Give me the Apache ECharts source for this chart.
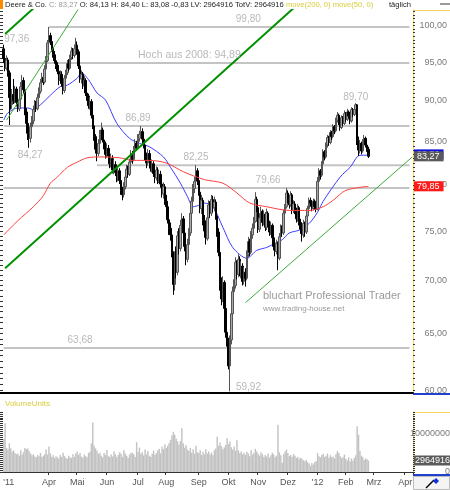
<!DOCTYPE html>
<html><head><meta charset="utf-8">
<script src="https://cdn.jsdelivr.net/npm/echarts@6/dist/echarts.min.js"></script>
<style>html,body{margin:0;padding:0;background:#fff}#c{width:450px;height:490px}</style>
</head><body><div id="c"></div><script>
// ---------- data (Deere & Co., daily, 15 Feb 2011 .. 24 Feb 2012) ----------
const firstOpen = 96.8;
const close = [
95.5,94.2,95.3,93.6,90.4,89.5,90.8,90.0,91.5,89.8,
89.0,90.2,91.8,92.6,91.4,88.6,87.2,86.0,85.4,86.8,
87.5,88.9,89.6,89.0,90.4,91.2,92.3,93.0,92.4,94.1,
95.2,97.6,98.6,97.8,96.9,96.0,95.2,94.6,93.8,92.6,
93.4,92.2,91.3,92.9,93.6,94.8,94.2,95.6,96.5,95.9,
96.8,97.3,96.4,94.5,92.8,93.4,91.9,92.6,91.0,90.6,
89.4,89.9,88.2,86.9,85.6,84.1,83.6,84.8,85.9,86.4,
85.2,84.6,83.5,84.2,83.3,82.4,83.0,81.7,82.3,81.4,
80.8,81.6,80.5,79.4,78.9,79.8,80.9,81.8,81.2,82.6,
83.5,82.9,84.1,84.8,84.3,85.4,85.9,86.2,85.3,84.6,
83.2,82.5,83.6,82.8,81.9,82.4,81.3,80.8,81.7,80.6,
81.2,80.1,79.0,79.8,78.2,77.6,76.2,75.3,74.6,72.8,
69.6,72.5,70.8,74.5,73.2,75.6,76.3,74.8,73.4,72.1,
73.6,74.8,76.9,78.2,79.6,80.4,81.6,80.5,79.2,77.4,
78.3,76.1,75.0,74.2,76.4,77.8,76.9,78.4,77.5,78.1,
76.6,74.9,72.8,69.6,68.2,69.8,67.3,65.1,64.3,62.1,
64.4,66.8,68.9,69.5,71.8,70.6,72.1,70.9,71.4,69.9,
70.8,70.2,72.6,73.9,72.8,74.6,75.3,76.0,78.4,77.5,
75.2,76.4,77.1,75.9,76.8,75.4,76.9,75.8,74.9,75.6,
74.3,73.4,72.9,73.7,72.2,74.4,75.3,74.8,76.9,77.6,
79.1,78.4,77.8,78.9,77.2,77.9,77.1,76.3,77.5,75.9,
75.2,74.6,75.8,74.9,76.6,77.4,78.3,78.0,77.4,78.2,
77.6,77.3,80.4,81.6,81.1,82.4,83.8,83.2,84.6,85.5,
84.9,86.1,85.6,86.8,86.3,87.6,88.2,87.4,86.7,87.9,
87.2,88.4,87.7,88.6,88.1,87.5,88.9,88.3,88.9,89.5,
85.1,84.0,84.8,83.9,84.9,85.4,84.6,84.10,83.27];
const high = [
97.36,96.1,95.9,95.6,93.9,91.2,91.5,92.8,91.9,91.8,
90.3,90.8,92.4,93.3,93.0,91.7,89.1,87.9,86.9,87.3,
88.1,89.4,90.1,90.0,90.9,91.7,92.8,93.6,93.5,94.6,
95.8,98.0,99.8,99.0,98.2,97.4,96.5,95.7,95.0,94.2,
93.9,93.8,92.6,93.3,94.0,95.3,95.4,96.0,97.0,96.9,
97.4,98.3,97.8,96.7,94.9,93.9,93.7,93.2,92.9,91.6,
90.9,90.5,90.2,88.6,87.3,85.9,84.6,85.3,86.4,87.3,
86.7,85.7,85.0,84.8,84.6,83.8,83.6,83.4,82.9,82.7,
81.9,82.1,81.9,80.9,79.8,80.3,81.4,82.3,82.2,83.0,
84.0,83.9,84.5,85.3,85.1,85.9,86.3,86.89,86.6,85.7,
85.0,83.7,84.1,84.0,83.3,82.9,82.7,81.8,82.1,82.0,
81.7,81.6,80.5,80.3,80.1,78.9,78.0,76.8,75.9,75.0,
72.9,72.9,73.4,75.0,75.3,76.2,76.9,76.6,75.2,74.0,
74.2,75.3,77.4,78.7,80.1,80.9,82.25,81.9,80.8,79.6,
78.9,78.6,76.7,75.6,76.9,78.3,78.2,78.9,78.8,78.7,
78.4,77.0,75.3,73.0,70.3,70.4,70.0,67.8,65.9,64.6,
64.8,67.2,69.4,70.1,72.3,72.0,72.6,72.4,71.9,71.7,
71.3,71.2,73.0,74.4,74.2,75.0,75.8,76.5,79.2,78.7,
77.5,76.9,77.6,77.3,77.2,77.0,77.4,77.1,76.1,76.0,
75.8,74.6,73.8,74.1,73.9,74.8,75.7,75.6,77.3,77.9,
79.66,79.4,78.8,79.3,79.1,78.3,78.2,77.5,77.9,77.7,
76.3,75.6,76.2,76.0,76.9,77.7,78.6,78.6,78.3,78.5,
78.4,77.9,80.9,81.9,81.8,82.7,84.1,84.0,84.9,85.8,
85.7,86.4,86.3,87.1,87.0,87.9,88.6,88.4,87.7,88.2,
88.1,88.8,88.6,89.0,88.8,88.3,89.2,89.1,89.3,89.70,
89.6,85.6,85.2,85.0,85.3,85.8,85.6,84.9,84.40];
const low = [
94.9,93.8,93.9,93.1,87.0,88.9,89.0,89.6,89.7,89.3,
88.6,88.7,89.9,91.2,90.9,88.2,86.5,85.2,84.27,84.9,
86.3,87.1,88.5,88.6,88.8,90.0,90.9,91.9,92.0,92.2,
93.8,95.0,97.2,97.3,96.4,95.6,94.8,94.1,93.4,92.0,
92.3,91.8,90.8,91.0,92.5,93.3,93.8,94.0,95.3,95.4,
95.6,96.5,96.0,94.1,92.3,92.2,91.5,91.6,90.6,90.0,
89.0,88.9,87.8,86.5,85.1,83.6,82.7,83.3,84.5,85.5,
84.9,84.1,83.0,83.1,82.9,81.9,82.0,81.3,81.2,81.0,
80.3,80.4,80.1,78.9,78.3,78.6,79.5,80.6,80.8,81.0,
82.3,82.4,82.7,83.8,83.9,84.1,85.0,85.6,85.0,84.2,
82.8,81.9,82.2,82.4,81.5,81.4,80.9,80.2,80.5,80.1,
80.2,79.7,78.6,78.5,77.8,77.0,75.8,74.6,74.0,72.3,
68.6,69.0,70.2,70.5,72.6,72.9,74.8,74.1,72.9,71.5,
71.8,73.1,74.5,76.5,77.9,79.1,80.1,80.0,78.8,76.9,
76.8,75.6,74.3,73.6,74.0,76.0,76.4,76.6,77.0,77.1,
76.2,74.4,72.4,69.0,67.6,67.9,66.8,64.6,63.8,61.8,
59.92,64.0,66.5,68.3,69.2,70.1,70.3,70.4,70.2,69.5,
69.6,69.4,70.0,72.3,72.4,72.6,74.2,75.0,75.9,77.0,
74.8,74.9,76.0,75.5,75.6,75.0,75.1,75.4,74.5,74.6,
74.0,73.0,72.4,72.6,71.0,72.0,74.1,74.4,74.6,76.5,
77.4,78.0,77.4,77.6,76.8,76.9,76.8,75.9,76.0,75.6,
74.7,73.9,74.3,74.4,74.7,76.2,77.1,77.6,77.1,77.2,
77.3,77.0,77.2,80.1,80.6,80.9,82.2,82.8,83.0,84.3,
84.5,84.7,85.2,85.4,85.9,86.1,87.3,87.0,86.3,86.5,
86.9,87.0,87.4,87.5,87.8,87.1,87.3,88.0,88.1,88.6,
84.6,83.3,83.6,83.5,83.7,84.6,84.3,83.8,83.08];
// volume in millions of shares
const volumeM = [
8.5,12.6,6.2,5.8,7.4,6.1,5.2,5.6,4.9,4.6,
4.8,4.2,5.6,4.5,5.1,6.2,5.9,6.1,5.4,4.8,
4.3,4.6,4.0,3.8,4.4,4.1,4.9,3.9,4.2,4.6,
5.8,4.5,6.6,4.8,3.9,4.3,3.6,4.1,3.8,3.5,
4.4,3.9,5.0,4.1,3.7,3.4,4.2,3.8,3.6,4.6,
3.9,4.8,5.2,4.4,4.9,4.0,3.7,4.5,4.1,3.8,
4.9,5.2,7.4,12.8,6.8,6.1,5.5,4.7,5.0,4.2,
3.8,4.9,4.4,5.7,4.1,3.9,4.5,4.0,5.3,4.6,
3.8,4.4,5.1,4.7,3.9,5.6,4.8,4.2,3.6,4.5,
4.9,5.0,4.6,3.9,7.7,5.2,6.3,4.7,5.1,4.3,
5.8,4.6,5.4,4.2,3.9,4.7,5.5,4.4,4.9,5.6,
6.0,4.8,6.6,5.9,7.2,6.2,6.8,7.5,8.3,9.4,
10.4,9.6,8.6,7.9,7.1,8.0,11.3,7.4,6.3,6.9,
5.8,5.4,6.2,5.0,5.9,4.7,6.8,5.1,4.9,5.6,
4.4,5.2,4.6,5.9,4.8,5.3,4.5,5.0,4.3,5.6,
6.1,9.1,6.8,7.6,6.7,5.9,6.3,7.0,8.7,7.2,
7.9,6.4,5.8,6.6,5.5,8.2,5.6,4.9,5.3,4.6,
5.0,4.4,5.2,4.8,4.1,5.6,4.5,4.9,6.0,5.3,
4.7,4.2,5.1,4.6,3.9,4.4,4.0,4.8,3.7,4.3,
5.0,4.5,3.8,4.2,12.2,5.1,4.3,2.4,4.6,5.3,
5.8,4.9,4.1,4.4,3.9,4.6,4.2,3.6,3.9,3.3,
3.7,3.4,3.0,2.8,3.1,2.5,2.2,1.6,2.3,1.9,
2.6,2.8,4.9,4.1,3.8,4.4,4.7,3.9,4.2,4.8,
3.7,4.3,3.8,4.0,3.5,4.6,5.4,4.9,4.1,3.6,
3.9,4.5,3.4,3.0,3.8,2.7,3.5,2.9,3.6,4.3,
11.8,9.6,5.4,4.2,3.8,3.1,3.5,3.3,2.964916];
// moving averages: [bar index, value]
const ma200 = [[0,74.6],[10,76.1],[21,77.6],[28,78.8],[33,80.2],[38,80.9],[45,82.0],[52,82.6],[59,83.1],[68,83.2],[82,83.1],[91,82.8],[103,82.8],[115,82.5],[127,81.5],[142,80.6],[155,80.2],[165,79.1],[174,78.0],[186,77.6],[202,77.2],[216,77.2],[226,77.6],[233,78.3],[242,79.4],[258,79.85]];
const ma50 = [[0,87.6],[3,88.5],[10,89.1],[17,89.1],[21,88.9],[26,89.5],[33,90.7],[40,91.8],[45,92.0],[52,92.9],[55,93.6],[60,92.7],[66,91.0],[72,90.1],[80,87.2],[89,85.4],[96,84.8],[103,84.4],[113,83.2],[118,82.0],[125,80.2],[130,78.7],[134,77.6],[139,77.8],[142,78.0],[148,77.6],[155,75.4],[162,73.3],[172,72.2],[179,73.0],[186,73.3],[193,73.8],[197,74.1],[202,74.8],[209,75.1],[216,75.8],[222,77.0],[226,78.2],[238,80.9],[245,82.0],[252,83.4],[258,83.4]];
// trend lines: two anchors each [bar index, price]
const trendThick = [[[1,71.2],[209.3,103.2]], [[1,98.83],[25.7,103.35]]];
const trendThin = [[[2.3,87.6],[56.4,103.35]], [[171.4,67.85],[289,83.2]]];
// horizontal levels [value, first bar, last bar]
const levels = [[99.80,32,287],[94.89,0,287],[86.89,0,287],[82.25,66,287],[79.66,0,287],[63.68,0,287]];
const levelText = ['99,80','Hoch aus 2008: 94,89','86,89','82,25','79,66','63,68'];
const levelLabelBar = [173,95,95,136,187,54];
const extremes = [[0,97.36,'97,36'],[18,84.27,'84,27'],[249,89.70,'89,70'],[160,59.92,'59,92']];
const lastClose = 83.27, lastMa200 = 79.85, lastMa50 = 83.5, lastVolume = 2964916;
const holidays = ['2011-02-21','2011-04-22','2011-05-30','2011-07-04','2011-09-05','2011-11-24','2011-12-26','2012-01-02','2012-01-16','2012-02-20','2012-04-06'];
const monthNames = {'02':'Feb','03':'Mrz','04':'Apr','05':'Mai','06':'Jun','07':'Jul','08':'Aug','09':'Sep','10':'Okt','11':'Nov','12':'Dez'};
const headerParts = [['a','Deere & Co.'],['g','C: 83,27'],['a','O: 84,13 H: 84,40 L: 83,08 -0,83 LV: 2964916 TotV: 2964916'],['y','move(200, 0) move(50, 0)']];

// trading-day categories (weekdays without exchange holidays)
const cats = [];
(function(){ const d = new Date(Date.UTC(2011,1,15)); const end = Date.UTC(2012,3,10);
  while (d.getTime() <= end) { const wd = d.getUTCDay(); const s = d.toISOString().slice(0,10);
    if (wd !== 0 && wd !== 6 && holidays.indexOf(s) < 0) cats.push(s); d.setUTCDate(d.getUTCDate()+1); } })();
function monthStart(i){ return i > 0 && cats[i].slice(5,7) !== cats[i-1].slice(5,7) && cats[i] >= '2011-04-01'; }
function monthLabel(i){ if (i === 0) return "{l|'11}"; const m = cats[i].slice(5,7); return m === '01' ? "'" + cats[i].slice(2,4) : monthNames[m]; }
const ohlc = close.map((c,i) => [i === 0 ? firstOpen : close[i-1], c, low[i], high[i]]);
const comma = v => Number(v).toFixed(2).replace('.', ',');

const priceTicks = []; for (let v = 60; v <= 102; v += 0.5) priceTicks.push(v);
const volTicks = []; for (let v = 0; v <= 15.5; v += 0.5) volTicks.push(v);
const FONT = 'Liberation Sans';
const GRAY = '#a8a8a8';
const NOLINE = {color:'rgba(0,0,0,0)', width:0};
function valueTag(val, text, bg, pad){
  return {silent:true, symbol:'none', lineStyle:NOLINE, animation:false,
    data:[{yAxis:val, label:{show:true, position:'end', distance:1, formatter:text, backgroundColor:bg, color:'#fff', fontSize:9, fontFamily:FONT, padding:pad||[1,4,0,3], opacity:1}}]};
}
// header font size fitted so that the info line spans x=5..374 as in the reference
const headerText = headerParts.map(p => p[1]).join(' ');
const mctx = document.createElement('canvas').getContext('2d');
mctx.font = '10px "' + FONT + '"';
const headerSize = Math.min(9, 10 * 369 / mctx.measureText(headerText).width);

const series = [];
levels.forEach((l) => series.push({type:'line', xAxisIndex:0, yAxisIndex:0, data:[[l[1],l[0]],[l[2],l[0]]], symbol:'none', lineStyle:{color:'#c4c4c4', width:2}, silent:true, z:1}));
series.push({type:'line', xAxisIndex:0, yAxisIndex:0, data:ma50, smooth:0.3, symbol:'none', lineStyle:{color:'#3b3bff', width:1}, z:2,
  markLine:valueTag(lastMa50, comma(lastMa50), '#1010e0')});
series.push({type:'candlestick', xAxisIndex:0, yAxisIndex:0, data:ohlc, barWidth:2,
  itemStyle:{color:'#a8a8a8', color0:'#000', borderColor:'#555', borderColor0:'#000', borderWidth:1}, z:3,
  markLine:valueTag(lastClose, comma(lastClose), '#5a5a5a')});
series.push({type:'line', xAxisIndex:0, yAxisIndex:0, data:ma200, smooth:0.3, symbol:'none', lineStyle:{color:'#ff4040', width:1}, z:4,
  markLine:valueTag(lastMa200, comma(lastMa200), '#ff1a1a')});
trendThick.forEach(t => series.push({type:'line', xAxisIndex:0, yAxisIndex:0, data:t, symbol:'none', clip:true, lineStyle:{color:'#009000', width:2}, silent:true, z:5}));
trendThin.forEach(t => series.push({type:'line', xAxisIndex:0, yAxisIndex:0, data:t, symbol:'none', clip:true, lineStyle:{color:'#3aaa3a', width:1}, silent:true, z:5}));
// text annotations anchored to data
const annData = [];
levels.forEach((l, k) => annData.push({value:[levelLabelBar[k], l[0]], label: k === 1
  ? {formatter:levelText[k], position:'right', distance:0, offset:[0,-8], fontSize:10.5}
  : {formatter:levelText[k], offset:[0,-8]}}));
const extOffsets = [[13,-5],[1,7],[0,-6],[0,0]];
extremes.forEach((e, k) => annData.push({value:[e[0], e[1]], label: k === 3 ? {formatter:e[2], position:'right', distance:6, offset:[0,-4]} : {formatter:e[2], offset:extOffsets[k]}}));
series.push({type:'scatter', xAxisIndex:0, yAxisIndex:0, data:annData, symbolSize:0, silent:true, z:6, clip:false,
  label:{show:true, position:'inside', color:GRAY, fontSize:10, fontFamily:FONT}});
// volume
series.push({type:'bar', xAxisIndex:1, yAxisIndex:1, data:volumeM, barCategoryGap:'0%', itemStyle:{color:'#c2c2c2'}, silent:true,
  markLine:valueTag(lastVolume/1e6, String(lastVolume), '#5a5a5a', [1,1,0,1])});

const richHeader = {a:{fill:'#222', fontSize:headerSize, fontFamily:FONT}, g:{fill:'#999', fontSize:headerSize, fontFamily:FONT}, y:{fill:'#d9cc3c', fontSize:headerSize, fontFamily:FONT}};
const graphics = [
  {type:'rect', left:0, top:0, shape:{width:3, height:9}, style:{fill:'#ff8a00'}},
  {type:'rect', left:440, top:3, shape:{width:10, height:2}, style:{fill:'#9a9a9a'}},
  {type:'text', left:5, top:1, style:{text:headerParts.map(p => '{' + p[0] + '|' + p[1] + '}').join(' '), rich:richHeader, fontSize:headerSize, fontFamily:FONT}},
  {type:'text', left:389, top:1, style:{text:'täglich', fill:'#222', fontSize:headerSize, fontFamily:FONT}},
  {type:'line', shape:{x1:0, y1:393, x2:4, y2:393}, style:{stroke:'#000', lineWidth:2}},
  {type:'line', shape:{x1:413, y1:10.5, x2:450, y2:10.5}, style:{stroke:'#f2d35b', lineWidth:1}},
  {type:'line', shape:{x1:413, y1:394, x2:450, y2:394}, style:{stroke:'#2040d0', lineWidth:2}},
  {type:'line', shape:{x1:413, y1:412.5, x2:450, y2:412.5}, style:{stroke:'#f2d35b', lineWidth:1}},
  {type:'line', shape:{x1:413, y1:475, x2:450, y2:475}, style:{stroke:'#2040d0', lineWidth:2}},
  {type:'rect', shape:{x:413.5, y:476.5, width:36, height:13}, style:{fill:'#f4f4f4', stroke:'#bbb', lineWidth:1}},
  {type:'line', shape:{x1:426, y1:488, x2:434, y2:480}, style:{stroke:'#000', lineWidth:1.5}},
  {type:'polygon', shape:{points:[[436,478],[439,481],[436,484],[433,481]]}, style:{fill:'#1030e0'}},
  {type:'text', left:5, top:400, style:{text:'VolumeUnits', fill:'#d9cc3c', fontSize:8, fontFamily:FONT}},
  {type:'text', left:263, top:290, style:{text:'bluchart Professional Trader', fill:'#9a9a9a', fontSize:11, fontFamily:FONT}},
  {type:'text', left:263, top:305, style:{text:'www.trading-house.net', fill:'#9a9a9a', fontSize:8, fontFamily:FONT}}
];

const option = {
  animation:false,
  textStyle:{fontFamily:FONT},
  grid:[{left:3, right:37, top:10, height:383, outerBoundsMode:'none'},
        {left:3, right:37, top:412, height:60, outerBoundsMode:'none'}],
  xAxis:[
    {type:'category', gridIndex:0, data:cats, boundaryGap:true, axisLine:{lineStyle:{color:'#000', width:2}}, axisTick:{show:false}, axisLabel:{show:false}, splitLine:{show:false}},
    {type:'category', gridIndex:1, data:cats, boundaryGap:true, axisLine:{lineStyle:{color:'#333', width:1}},
      axisTick:{show:true, length:3, interval:(i)=>monthStart(i), lineStyle:{color:'#333'}},
      axisLabel:{show:true, interval:(i)=>i===0||monthStart(i), formatter:(v,i)=>monthLabel(i), color:'#555', fontSize:9, margin:6, hideOverlap:false, showMinLabel:true,
        rich:{l:{padding:[0,0,0,10], color:'#555', fontSize:9}}}, splitLine:{show:false}}
  ],
  yAxis:[
    {type:'log', gridIndex:0, position:'right', min:59.79, max:102.2, logBase:10,
      axisLine:{show:true, lineStyle:{color:'#f2d35b'}},
      axisTick:{show:true, customValues:priceTicks, length:2, lineStyle:{color:'#333'}},
      axisLabel:{show:true, customValues:[60,65,70,75,80,85,90,95,100], formatter:(v)=>comma(v), color:'#7a7a7a', fontSize:9, align:'right', margin:34},
      splitLine:{show:false}},
    {type:'value', gridIndex:1, position:'right', min:0, max:15.5,
      axisLine:{show:true, lineStyle:{color:'#f2d35b'}},
      axisTick:{show:true, customValues:volTicks, length:2, lineStyle:{color:'#333'}},
      axisLabel:{show:true, customValues:[0,10], formatter:(v)=> v === 0 ? '0' : String(Math.round(v*1e6)), color:'#7a7a7a', fontSize:9, align:'right', margin:37},
      splitLine:{show:false}},
    {type:'log', gridIndex:0, position:'left', min:59.79, max:102.2, logBase:10,
      axisLine:{show:false}, axisTick:{show:true, customValues:priceTicks, length:3, lineStyle:{color:'#333'}}, axisLabel:{show:false}, splitLine:{show:false}},
    {type:'value', gridIndex:1, position:'left', min:0, max:15.5,
      axisLine:{show:false}, axisTick:{show:true, customValues:volTicks, length:3, lineStyle:{color:'#333'}}, axisLabel:{show:false}, splitLine:{show:false}}
  ],
  series: series,
  graphic: graphics
};
const chart = echarts.init(document.getElementById('c'), null, {renderer:'canvas'});
chart.setOption(option);
</script></body></html>
